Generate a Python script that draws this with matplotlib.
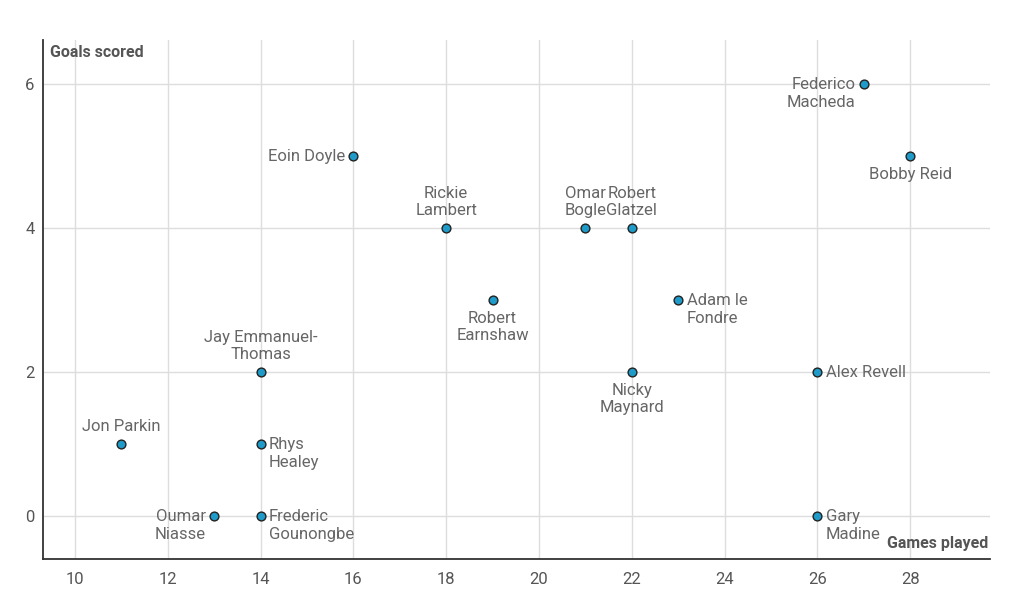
import matplotlib
matplotlib.use("Agg")
import matplotlib.pyplot as plt

plt.rcParams['font.family'] = ['Roboto', 'DejaVu Sans']

names = ["Federico\nMacheda", "Bobby Reid", "Eoin Doyle", "Rickie\nLambert", "Omar\nBogle",
         "Robert\nGlatzel", "Robert\nEarnshaw", "Adam le\nFondre", "Jay Emmanuel-\nThomas",
         "Nicky\nMaynard", "Alex Revell", "Jon Parkin", "Rhys\nHealey", "Oumar\nNiasse",
         "Frederic\nGounongbe", "Gary\nMadine"]
games = [27, 28, 16, 18, 21, 22, 19, 23, 14, 22, 26, 11, 14, 13, 14, 26]
goals = [6, 5, 5, 4, 4, 4, 3, 3, 2, 2, 2, 1, 1, 0, 0, 0]
label_side = ["left", "below", "left", "above", "above", "above", "below", "right", "above",
              "below", "right", "above", "right", "left", "right", "right"]

x_ticks = [10, 12, 14, 16, 18, 20, 22, 24, 26, 28]
y_ticks = [0, 2, 4, 6]

fig = plt.figure(figsize=(10.24, 6.12), dpi=100)
ax = fig.add_axes([43/1024, 53/612, 947/1024, 519/612])
ax.set_xlim(9.31, 29.72)
ax.set_ylim(-0.6, 6.61)

ax.set_xticks(x_ticks)
ax.set_yticks(y_ticks)
ax.grid(True, color="#dddddd", linewidth=1.0)
ax.set_axisbelow(True)
for s in ["top", "right"]:
    ax.spines[s].set_visible(False)
for s in ["left", "bottom"]:
    ax.spines[s].set_color("#333333")
    ax.spines[s].set_linewidth(1.3)
ax.tick_params(length=0, labelsize=12, labelcolor="#555555")
ax.tick_params(axis="x", pad=9)
ax.tick_params(axis="y", pad=6)

ax.scatter(games, goals, s=40, color="#1f9bc9", edgecolor="#222222", linewidth=1.0, zorder=3)

tc = "#666666"
fs = 12
ls = 1.2
for n, gx, gy, side in zip(names, games, goals, label_side):
    if side == "left":
        ax.annotate(n, (gx, gy), xytext=(-6, 4.7), textcoords="offset points", ha="right",
                    va="top", fontsize=fs, color=tc, linespacing=ls)
    elif side == "right":
        ax.annotate(n, (gx, gy), xytext=(6, 4.7), textcoords="offset points", ha="left",
                    va="top", fontsize=fs, color=tc, linespacing=ls)
    elif side == "above":
        ax.annotate(n, (gx, gy), xytext=(0, 7), textcoords="offset points", ha="center",
                    va="bottom", fontsize=fs, color=tc, linespacing=ls, multialignment="center")
    else:
        ax.annotate(n, (gx, gy), xytext=(0, -8), textcoords="offset points", ha="center",
                    va="top", fontsize=fs, color=tc, linespacing=ls, multialignment="center")

ax.text(0.007, 0.975, "Goals scored", transform=ax.transAxes, ha="left", va="center",
        fontsize=11.5, fontweight="bold", color="#555555")
ax.text(0.998, 0.03, "Games played", transform=ax.transAxes, ha="right", va="center",
        fontsize=11.5, fontweight="bold", color="#555555")

fig.savefig("out.png", dpi=100)
